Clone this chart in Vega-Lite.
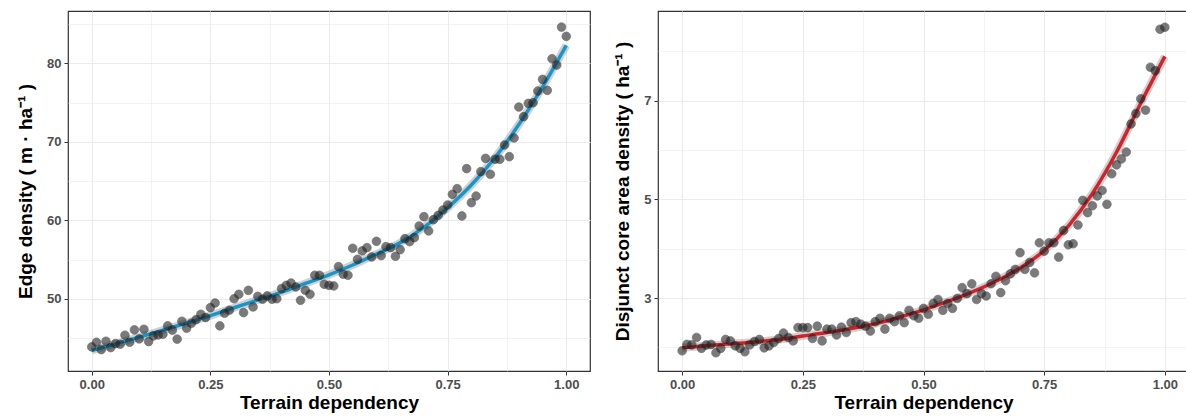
{
  "$schema": "https://vega.github.io/schema/vega-lite/v6.json",
  "background": "white",
  "padding": {"left": 15, "top": 10, "right": 0, "bottom": 0},
  "spacing": 68,
  "bounds": "flush",
  "config": {
    "view": {"stroke": "#333333", "strokeWidth": 1.2},
    "axis": {
      "domain": false,
      "labelFont": "Liberation Sans",
      "labelFontWeight": "bold",
      "labelFontSize": 13,
      "labelColor": "#4d4d4d",
      "tickColor": "#333333",
      "tickSize": 4,
      "labelPadding": 3,
      "titleFont": "Liberation Sans",
      "titleFontWeight": "bold",
      "titleFontSize": 19,
      "titleColor": "#000000",
      "gridColor": "#ebebeb"
    },
    "axisX": {"titlePadding": 2},
    "axisY": {"titlePadding": 11}
  },
  "datasets": {
    "ed": [
      {"x": 0.00, "y": 43.86}, {"x": 0.01, "y": 44.45}, {"x": 0.02, "y": 43.52}, {"x": 0.03, "y": 44.58}, {"x": 0.04, "y": 43.77},
      {"x": 0.05, "y": 44.28}, {"x": 0.06, "y": 44.20}, {"x": 0.07, "y": 45.35}, {"x": 0.08, "y": 44.45}, {"x": 0.09, "y": 46.03},
      {"x": 0.10, "y": 44.88}, {"x": 0.11, "y": 46.11}, {"x": 0.12, "y": 44.54}, {"x": 0.13, "y": 45.26}, {"x": 0.14, "y": 45.39},
      {"x": 0.15, "y": 45.47}, {"x": 0.16, "y": 46.54}, {"x": 0.17, "y": 46.00}, {"x": 0.18, "y": 44.85}, {"x": 0.19, "y": 47.13},
      {"x": 0.20, "y": 46.24}, {"x": 0.21, "y": 46.88}, {"x": 0.22, "y": 47.34}, {"x": 0.23, "y": 48.02}, {"x": 0.24, "y": 47.60},
      {"x": 0.25, "y": 48.87}, {"x": 0.26, "y": 49.46}, {"x": 0.27, "y": 46.54}, {"x": 0.28, "y": 48.15}, {"x": 0.29, "y": 48.53},
      {"x": 0.30, "y": 50.00}, {"x": 0.31, "y": 50.57}, {"x": 0.32, "y": 48.23}, {"x": 0.33, "y": 51.07}, {"x": 0.34, "y": 48.95},
      {"x": 0.35, "y": 50.31}, {"x": 0.36, "y": 49.93}, {"x": 0.37, "y": 50.36}, {"x": 0.38, "y": 49.93}, {"x": 0.39, "y": 50.00},
      {"x": 0.40, "y": 51.30}, {"x": 0.41, "y": 51.71}, {"x": 0.42, "y": 52.00}, {"x": 0.43, "y": 51.50}, {"x": 0.44, "y": 49.80},
      {"x": 0.45, "y": 51.08}, {"x": 0.46, "y": 50.57}, {"x": 0.47, "y": 52.99}, {"x": 0.48, "y": 52.99}, {"x": 0.49, "y": 51.84},
      {"x": 0.50, "y": 51.71}, {"x": 0.51, "y": 51.63}, {"x": 0.52, "y": 54.10}, {"x": 0.53, "y": 53.12}, {"x": 0.54, "y": 52.99},
      {"x": 0.55, "y": 56.43}, {"x": 0.56, "y": 55.03}, {"x": 0.57, "y": 56.09}, {"x": 0.58, "y": 56.51}, {"x": 0.59, "y": 55.32},
      {"x": 0.60, "y": 57.32}, {"x": 0.61, "y": 55.50}, {"x": 0.62, "y": 56.64}, {"x": 0.63, "y": 56.51}, {"x": 0.64, "y": 55.41},
      {"x": 0.65, "y": 56.26}, {"x": 0.66, "y": 57.66}, {"x": 0.67, "y": 57.28}, {"x": 0.68, "y": 57.79}, {"x": 0.69, "y": 59.27},
      {"x": 0.70, "y": 60.46}, {"x": 0.71, "y": 58.64}, {"x": 0.72, "y": 60.08}, {"x": 0.73, "y": 60.63}, {"x": 0.74, "y": 61.31},
      {"x": 0.75, "y": 61.95}, {"x": 0.76, "y": 63.31}, {"x": 0.77, "y": 64.03}, {"x": 0.78, "y": 60.55}, {"x": 0.79, "y": 66.58},
      {"x": 0.80, "y": 62.24}, {"x": 0.81, "y": 63.09}, {"x": 0.82, "y": 66.20}, {"x": 0.83, "y": 67.89}, {"x": 0.84, "y": 65.86},
      {"x": 0.85, "y": 67.77}, {"x": 0.86, "y": 67.77}, {"x": 0.87, "y": 69.59}, {"x": 0.88, "y": 68.11}, {"x": 0.89, "y": 70.49},
      {"x": 0.90, "y": 74.43}, {"x": 0.91, "y": 73.20}, {"x": 0.92, "y": 74.90}, {"x": 0.93, "y": 74.98}, {"x": 0.94, "y": 76.47},
      {"x": 0.95, "y": 77.96}, {"x": 0.96, "y": 76.56}, {"x": 0.97, "y": 80.59}, {"x": 0.98, "y": 79.78}, {"x": 0.99, "y": 84.62},
      {"x": 1.00, "y": 83.44}
    ],
    "ed_fit": [
      {"x": 0.00, "y": 43.4}, {"x": 0.05, "y": 44.25}, {"x": 0.10, "y": 45.1}, {"x": 0.15, "y": 46.0}, {"x": 0.20, "y": 46.9},
      {"x": 0.25, "y": 47.85}, {"x": 0.30, "y": 48.85}, {"x": 0.35, "y": 49.85}, {"x": 0.40, "y": 50.85}, {"x": 0.45, "y": 51.95},
      {"x": 0.50, "y": 53.05}, {"x": 0.55, "y": 54.3}, {"x": 0.60, "y": 55.7}, {"x": 0.65, "y": 57.15}, {"x": 0.70, "y": 59.1},
      {"x": 0.75, "y": 61.6}, {"x": 0.80, "y": 64.5}, {"x": 0.85, "y": 68.0}, {"x": 0.90, "y": 72.2}, {"x": 0.95, "y": 77.0},
      {"x": 1.00, "y": 82.3}
    ],
    "dcad": [
      {"x": 0.00, "y": 1.93}, {"x": 0.01, "y": 2.06}, {"x": 0.02, "y": 2.05}, {"x": 0.03, "y": 2.20}, {"x": 0.04, "y": 1.98},
      {"x": 0.05, "y": 2.05}, {"x": 0.06, "y": 2.06}, {"x": 0.07, "y": 1.89}, {"x": 0.08, "y": 1.98}, {"x": 0.09, "y": 2.16},
      {"x": 0.10, "y": 2.13}, {"x": 0.11, "y": 2.03}, {"x": 0.12, "y": 1.98}, {"x": 0.13, "y": 1.91}, {"x": 0.14, "y": 2.05},
      {"x": 0.15, "y": 2.12}, {"x": 0.16, "y": 2.16}, {"x": 0.17, "y": 1.99}, {"x": 0.18, "y": 2.03}, {"x": 0.19, "y": 2.10},
      {"x": 0.20, "y": 2.18}, {"x": 0.21, "y": 2.29}, {"x": 0.22, "y": 2.20}, {"x": 0.23, "y": 2.13}, {"x": 0.24, "y": 2.40},
      {"x": 0.25, "y": 2.40}, {"x": 0.26, "y": 2.40}, {"x": 0.27, "y": 2.18}, {"x": 0.28, "y": 2.43}, {"x": 0.29, "y": 2.13},
      {"x": 0.30, "y": 2.37}, {"x": 0.31, "y": 2.37}, {"x": 0.32, "y": 2.25}, {"x": 0.33, "y": 2.41}, {"x": 0.34, "y": 2.30},
      {"x": 0.35, "y": 2.50}, {"x": 0.36, "y": 2.52}, {"x": 0.37, "y": 2.47}, {"x": 0.38, "y": 2.43}, {"x": 0.39, "y": 2.33},
      {"x": 0.40, "y": 2.52}, {"x": 0.41, "y": 2.59}, {"x": 0.42, "y": 2.37}, {"x": 0.43, "y": 2.59}, {"x": 0.44, "y": 2.52},
      {"x": 0.45, "y": 2.64}, {"x": 0.46, "y": 2.50}, {"x": 0.47, "y": 2.75}, {"x": 0.48, "y": 2.64}, {"x": 0.49, "y": 2.59},
      {"x": 0.50, "y": 2.79}, {"x": 0.51, "y": 2.67}, {"x": 0.52, "y": 2.89}, {"x": 0.53, "y": 2.97}, {"x": 0.54, "y": 2.75},
      {"x": 0.55, "y": 2.89}, {"x": 0.56, "y": 2.79}, {"x": 0.57, "y": 2.99}, {"x": 0.58, "y": 3.21}, {"x": 0.59, "y": 3.09},
      {"x": 0.60, "y": 3.29}, {"x": 0.61, "y": 2.97}, {"x": 0.62, "y": 3.09}, {"x": 0.63, "y": 3.04}, {"x": 0.64, "y": 3.29},
      {"x": 0.65, "y": 3.44}, {"x": 0.66, "y": 3.11}, {"x": 0.67, "y": 3.35}, {"x": 0.68, "y": 3.49}, {"x": 0.69, "y": 3.58},
      {"x": 0.70, "y": 3.92}, {"x": 0.71, "y": 3.58}, {"x": 0.72, "y": 3.72}, {"x": 0.73, "y": 3.51}, {"x": 0.74, "y": 4.12},
      {"x": 0.75, "y": 3.95}, {"x": 0.76, "y": 4.12}, {"x": 0.77, "y": 4.12}, {"x": 0.78, "y": 3.83}, {"x": 0.79, "y": 4.37},
      {"x": 0.80, "y": 4.08}, {"x": 0.81, "y": 4.10}, {"x": 0.82, "y": 4.48}, {"x": 0.83, "y": 4.98}, {"x": 0.84, "y": 4.73},
      {"x": 0.85, "y": 4.87}, {"x": 0.86, "y": 5.07}, {"x": 0.87, "y": 5.18}, {"x": 0.88, "y": 4.90}, {"x": 0.89, "y": 5.52},
      {"x": 0.90, "y": 5.70}, {"x": 0.91, "y": 5.82}, {"x": 0.92, "y": 5.96}, {"x": 0.93, "y": 6.53}, {"x": 0.94, "y": 6.74},
      {"x": 0.95, "y": 7.04}, {"x": 0.96, "y": 6.81}, {"x": 0.97, "y": 7.68}, {"x": 0.98, "y": 7.61}, {"x": 0.99, "y": 8.45},
      {"x": 1.00, "y": 8.49}
    ],
    "dcad_fit": [
      {"x": 0.00, "y": 1.99}, {"x": 0.05, "y": 2.03}, {"x": 0.10, "y": 2.07}, {"x": 0.15, "y": 2.11}, {"x": 0.20, "y": 2.16},
      {"x": 0.25, "y": 2.23}, {"x": 0.30, "y": 2.30}, {"x": 0.35, "y": 2.38}, {"x": 0.40, "y": 2.48}, {"x": 0.45, "y": 2.61},
      {"x": 0.50, "y": 2.76}, {"x": 0.55, "y": 2.93}, {"x": 0.60, "y": 3.12}, {"x": 0.65, "y": 3.34}, {"x": 0.70, "y": 3.61},
      {"x": 0.75, "y": 3.96}, {"x": 0.80, "y": 4.46}, {"x": 0.85, "y": 5.12}, {"x": 0.90, "y": 5.96}, {"x": 0.95, "y": 6.95},
      {"x": 1.00, "y": 7.90}
    ]
  },
  "hconcat": [
    {
      "width": 522,
      "height": 360,
      "encoding": {
        "x": {
          "field": "x", "type": "quantitative",
          "scale": {"domain": [-0.05, 1.05], "nice": false, "zero": false},
          "axis": {
            "title": "Terrain dependency",
            "values": [0, 0.125, 0.25, 0.375, 0.5, 0.625, 0.75, 0.875, 1],
            "labelExpr": "(datum.value * 4) % 1 == 0 ? format(datum.value, '.2f') : ''",
            "tickOpacity": {"condition": {"test": "(datum.value * 4) % 1 != 0", "value": 0}, "value": 1},
            "gridWidth": {"condition": {"test": "(datum.value * 4) % 1 != 0", "value": 0.6}, "value": 1.1}
          }
        },
        "y": {
          "field": "y", "type": "quantitative",
          "scale": {"domain": [40.79, 86.67], "nice": false, "zero": false},
          "axis": {
            "title": "Edge density ( m · ha⁻¹ )",
            "values": [45, 50, 55, 60, 65, 70, 75, 80, 85],
            "labelExpr": "datum.value % 10 == 0 ? datum.label : ''",
            "tickOpacity": {"condition": {"test": "datum.value % 10 != 0", "value": 0}, "value": 1},
            "gridWidth": {"condition": {"test": "datum.value % 10 != 0", "value": 0.6}, "value": 1.1}
          }
        }
      },
      "layer": [
        {
          "data": {"name": "ed_fit"},
          "mark": {"type": "line", "interpolate": "monotone", "color": "#9a9a9a", "opacity": 0.45, "strokeWidth": 8, "strokeCap": "butt"}
        },
        {
          "data": {"name": "ed_fit"},
          "mark": {"type": "line", "interpolate": "monotone", "color": "#1996c9", "strokeWidth": 3.5}
        },
        {
          "data": {"name": "ed"},
          "mark": {"type": "circle", "size": 75, "color": "#222222", "opacity": 0.6, "stroke": "#111111", "strokeWidth": 0.7}
        }
      ]
    },
    {
      "width": 531,
      "height": 360,
      "encoding": {
        "x": {
          "field": "x", "type": "quantitative",
          "scale": {"domain": [-0.05, 1.05], "nice": false, "zero": false},
          "axis": {
            "title": "Terrain dependency",
            "values": [0, 0.125, 0.25, 0.375, 0.5, 0.625, 0.75, 0.875, 1],
            "labelExpr": "(datum.value * 4) % 1 == 0 ? format(datum.value, '.2f') : ''",
            "tickOpacity": {"condition": {"test": "(datum.value * 4) % 1 != 0", "value": 0}, "value": 1},
            "gridWidth": {"condition": {"test": "(datum.value * 4) % 1 != 0", "value": 0.6}, "value": 1.1}
          }
        },
        "y": {
          "field": "y", "type": "quantitative",
          "scale": {"domain": [1.52, 8.82], "nice": false, "zero": false},
          "axis": {
            "title": "Disjunct core area density ( ha⁻¹ )",
            "values": [2, 3, 4, 5, 6, 7, 8],
            "labelExpr": "datum.value % 2 == 1 ? datum.label : ''",
            "tickOpacity": {"condition": {"test": "datum.value % 2 == 0", "value": 0}, "value": 1},
            "gridWidth": {"condition": {"test": "datum.value % 2 == 0", "value": 0.6}, "value": 1.1}
          }
        }
      },
      "layer": [
        {
          "data": {"name": "dcad_fit"},
          "mark": {"type": "line", "interpolate": "monotone", "color": "#9a9a9a", "opacity": 0.45, "strokeWidth": 8, "strokeCap": "butt"}
        },
        {
          "data": {"name": "dcad_fit"},
          "mark": {"type": "line", "interpolate": "monotone", "color": "#d2232a", "strokeWidth": 3.5}
        },
        {
          "data": {"name": "dcad"},
          "mark": {"type": "circle", "size": 75, "color": "#222222", "opacity": 0.6, "stroke": "#111111", "strokeWidth": 0.7}
        }
      ]
    }
  ]
}
